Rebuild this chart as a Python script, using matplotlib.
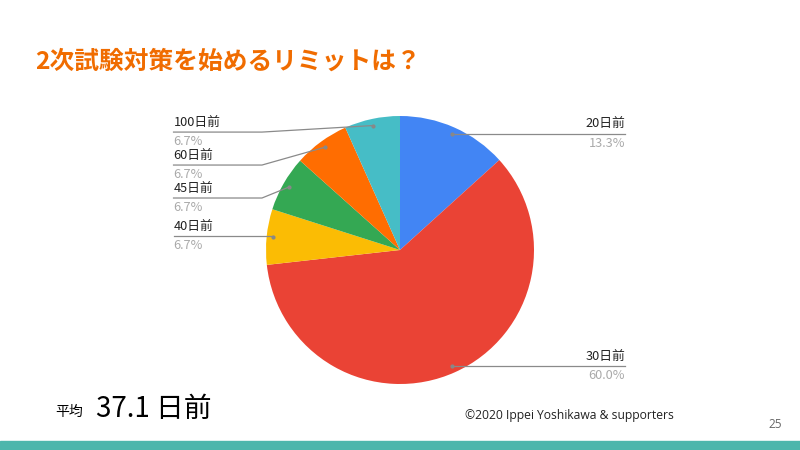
import numpy as np
import matplotlib
matplotlib.use('Agg')
import matplotlib.pyplot as plt
from matplotlib.patches import Rectangle

plt.rcParams['font.family'] = ['Noto Sans CJK JP', 'DejaVu Sans']

# data
labels = ['20日前', '30日前', '40日前', '45日前', '60日前', '100日前']
shares = [13.3, 60.0, 6.7, 6.7, 6.7, 6.7]
colors = ['#4285F4', '#EA4335', '#FBBC04', '#34A853', '#FF6D01', '#46BDC6']
title = '2次試験対策を始めるリミットは？'
average_text = '37.1 日前'

# label layout (pie radius = 1): y of leader line for each left label
label_y = [0.87, -0.87, 0.104, 0.388, 0.634, 0.88]

W, H = 800, 450
fig = plt.figure(figsize=(8, 4.5), dpi=100)

# pie centre (400, 250) px from top-left, radius 134 px
cx, cy, r = 400, 250, 134
ax = fig.add_axes([(cx - r) / W, (H - cy - r) / H, 2 * r / W, 2 * r / H])
wedges, _ = ax.pie(shares, colors=colors, startangle=90, counterclock=False,
                   radius=1, wedgeprops=dict(linewidth=0))
ax.set_xlim(-1, 1)
ax.set_ylim(-1, 1)
ax.set_aspect('equal')
ax.axis('off')

line_col = '#8a8a8a'
total = sum(shares)
start = 0.0
for lab, val, ly in zip(labels, shares, label_y):
    mid = start + val / total * 360 / 2
    start += val / total * 360
    th = np.deg2rad(mid)
    px, py = 0.95 * np.sin(th), 0.95 * np.cos(th)
    if px >= 0:
        xs, ys = [px, 1.68], [py, py]
        tx, ha = 1.68, 'right'
        ly = py
    else:
        if abs(py - ly) < 0.02:
            xs, ys = [px, -1.69], [ly, ly]
        else:
            xs, ys = [px, -1.03, -1.69], [py, ly, ly]
        tx, ha = -1.69, 'left'
    ax.plot(xs, ys, color=line_col, lw=0.9, clip_on=False)
    ax.plot([px], [py], marker='o', ms=2, color='#888888', clip_on=False)
    ax.text(tx, ly + 0.025, lab, ha=ha, va='bottom', fontsize=9.2,
            color='#222222')
    ax.text(tx, ly - 0.025, f'{val:.1f}%', ha=ha, va='top', fontsize=9.2,
            color='#aaaaaa')

# title
fig.text(35 / W, 1 - 62 / H, title, fontsize=17.8, fontweight='bold',
         color='#F06C00', va='center', ha='left')

# average
fig.text(55 / W, 1 - 412 / H, '平均', fontsize=10, color='black',
         va='center', ha='left')
fig.text(96 / W, 1 - 409 / H, average_text, fontsize=20, color='black',
         va='center', ha='left')

# footer
fig.text(465 / W, 1 - 415 / H, '©2020 Ippei Yoshikawa & supporters',
         fontsize=8.7, family=['Open Sans', 'DejaVu Sans'], color='#222222',
         va='center', ha='left')
fig.text(782 / W, 1 - 425 / H, '25', fontsize=8.5, color='#666666',
         family=['Open Sans', 'DejaVu Sans'], va='center', ha='right')
fig.patches.append(Rectangle((0, 0), 1, 9 / H, transform=fig.transFigure,
                             color='#4DB6AC', zorder=0))

fig.savefig('out.png', dpi=100)
